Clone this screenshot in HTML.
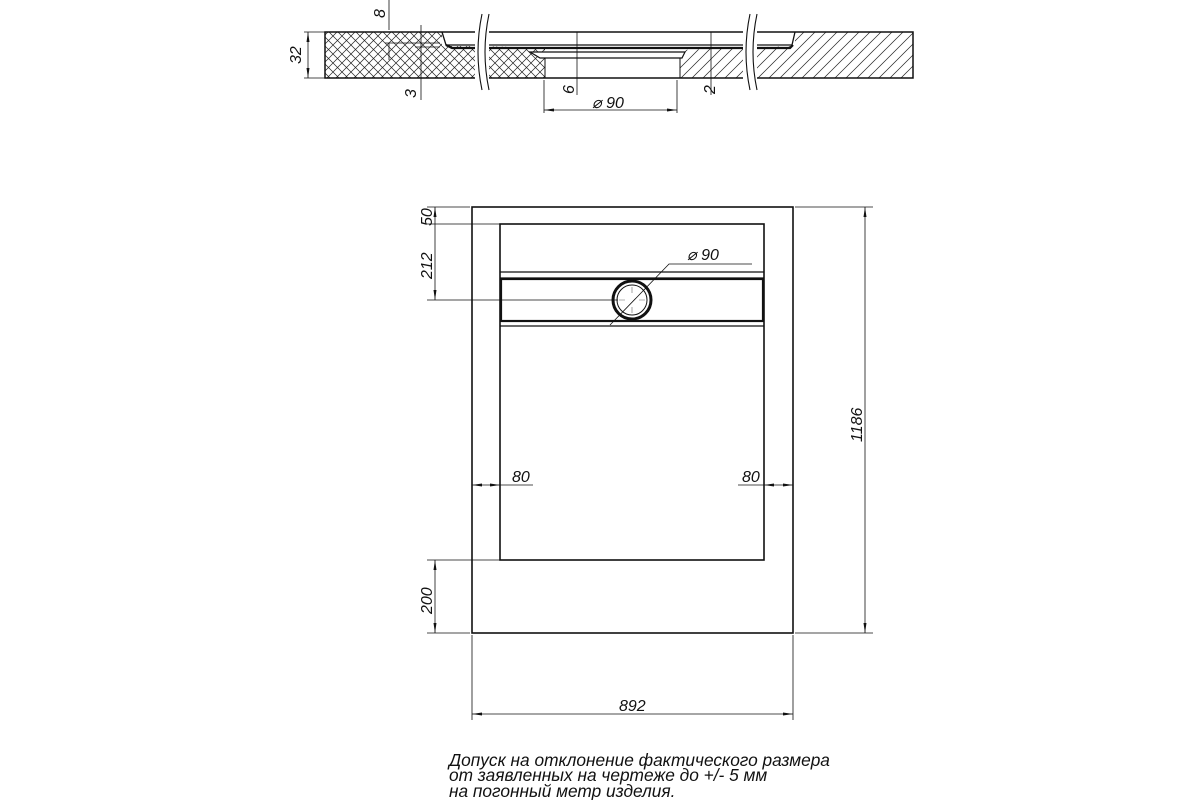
<!DOCTYPE html>
<html><head><meta charset="utf-8"><style>
body{margin:0;background:#fff}
svg{display:block}
text{font-family:"Liberation Sans",sans-serif;font-style:italic;fill:#111}
</style></head><body>
<svg width="1200" height="800" viewBox="0 0 1200 800" xmlns="http://www.w3.org/2000/svg">
<defs>
<pattern id="cross" width="9" height="9" patternUnits="userSpaceOnUse">
<path d="M0 0L9 9M9 0L0 9" stroke="#222" stroke-width="0.7"/>
</pattern>
<pattern id="hatch" width="11" height="11" patternUnits="userSpaceOnUse">
<path d="M0 11L11 0M-2 2L2 -2M9 13L13 9" stroke="#222" stroke-width="0.7"/>
</pattern>
<marker id="a" markerWidth="10" markerHeight="6" refX="10" refY="3" orient="auto-start-reverse" markerUnits="userSpaceOnUse"><path d="M0 1.5L10 3L0 4.5z" fill="#111"/></marker>
</defs>
<g stroke="#111" fill="none">
<path d="M325 32H442L446 45L545 48L545 78H325Z" fill="url(#cross)" stroke="none"/>
<path d="M680 78V50L795 46L795 32H913V78Z" fill="url(#hatch)" stroke="none"/>
<rect x="442" y="32" width="353" height="14" fill="#fff" stroke="none"/>
<rect x="545" y="52" width="135" height="26" fill="#fff" stroke="none"/>
<path d="M325 32H913V78H325Z" stroke-width="1.5"/>
<path d="M442 32L446 45H792L795 32" stroke-width="1.3"/>
<path d="M446 45L452 48H790L793 45" stroke-width="2.2"/>
<path d="M530 52H685L682 58H540Z" fill="#fff" stroke-width="1.2"/>
<path d="M545 58V78M680 58V78" stroke-width="1"/>
<rect x="475" y="14" width="14" height="76" fill="#fff" stroke="none"/>
<rect x="743" y="14" width="14" height="76" fill="#fff" stroke="none"/>
<path d="M482 14Q474 52 482 90M489 14Q481 52 489 90M750 14Q742 52 750 90M757 14Q749 52 757 90" stroke-width="1.1"/>
<g stroke-width="0.8">
<path d="M304 32H325M304 78H325"/>
<path d="M308 32V78" marker-start="url(#a)" marker-end="url(#a)"/>
<path d="M389 0V30M389 60V43"/><path d="M385 43H440"/>
<path d="M421 25V100M415 47H440"/>
<path d="M544 80V113M677 80V113"/>
<path d="M544 110H677" marker-start="url(#a)" marker-end="url(#a)"/>
<path d="M577 32V95"/>
<path d="M711 32V95"/>
</g>
<rect x="472" y="207" width="321" height="426" stroke-width="1.6"/>
<rect x="500" y="224" width="264" height="336" stroke-width="1.6"/>
<path d="M500 272H764M500 278H764M500 321H764M500 326H764" stroke-width="1.3"/>
<rect x="501" y="279" width="262" height="42" stroke-width="2.2"/>
<circle cx="632" cy="300" r="19" stroke-width="3"/>
<circle cx="632" cy="300" r="15" stroke-width="1"/>
<path d="M632 287V293M632 307V313M619 300H625M639 300H645" stroke-width="0.6" stroke="#666"/>
<g stroke-width="0.8">
<path d="M610 325L669 264H752"/>
<path d="M427 207H470M427 224H500M427 300H618"/>
<path d="M435 207V224M435 224V300" marker-start="url(#a)" marker-end="url(#a)"/>
<path d="M427 560H500M427 633H470"/>
<path d="M435 560V633" marker-start="url(#a)" marker-end="url(#a)"/>
<path d="M795 207H873M795 633H873"/>
<path d="M865 207V633" marker-start="url(#a)" marker-end="url(#a)"/>
<path d="M472 635V720M793 635V720"/>
<path d="M472 714H793" marker-start="url(#a)" marker-end="url(#a)"/>
<path d="M472 485H500" marker-start="url(#a)" marker-end="url(#a)"/>
<path d="M500 485H533"/>
<path d="M764 485H793" marker-start="url(#a)" marker-end="url(#a)"/>
<path d="M738 485H764"/>
</g>
</g>
<g font-size="16">
<text transform="translate(301 64) rotate(-90)">32</text>
<text transform="translate(385 18) rotate(-90)">8</text>
<text transform="translate(416 98) rotate(-90)">3</text>
<text transform="translate(574 94) rotate(-90)">6</text>
<text transform="translate(715 94) rotate(-90)">2</text>
<text x="592" y="108">⌀ 90</text>
<text x="687" y="260">⌀ 90</text>
<text transform="translate(432 226) rotate(-90)">50</text>
<text transform="translate(432 279) rotate(-90)">212</text>
<text transform="translate(432 614) rotate(-90)">200</text>
<text transform="translate(862 442) rotate(-90)">1186</text>
<text x="512" y="482">80</text>
<text x="742" y="482">80</text>
<text x="619" y="711">892</text>
</g>
<g font-size="17.3">
<text x="449" y="766">Допуск на отклонение фактического размера</text>
<text x="449" y="781">от заявленных на чертеже до +/- 5 мм</text>
<text x="449" y="797">на погонный метр изделия.</text>
</g>
</svg>
</body></html>
